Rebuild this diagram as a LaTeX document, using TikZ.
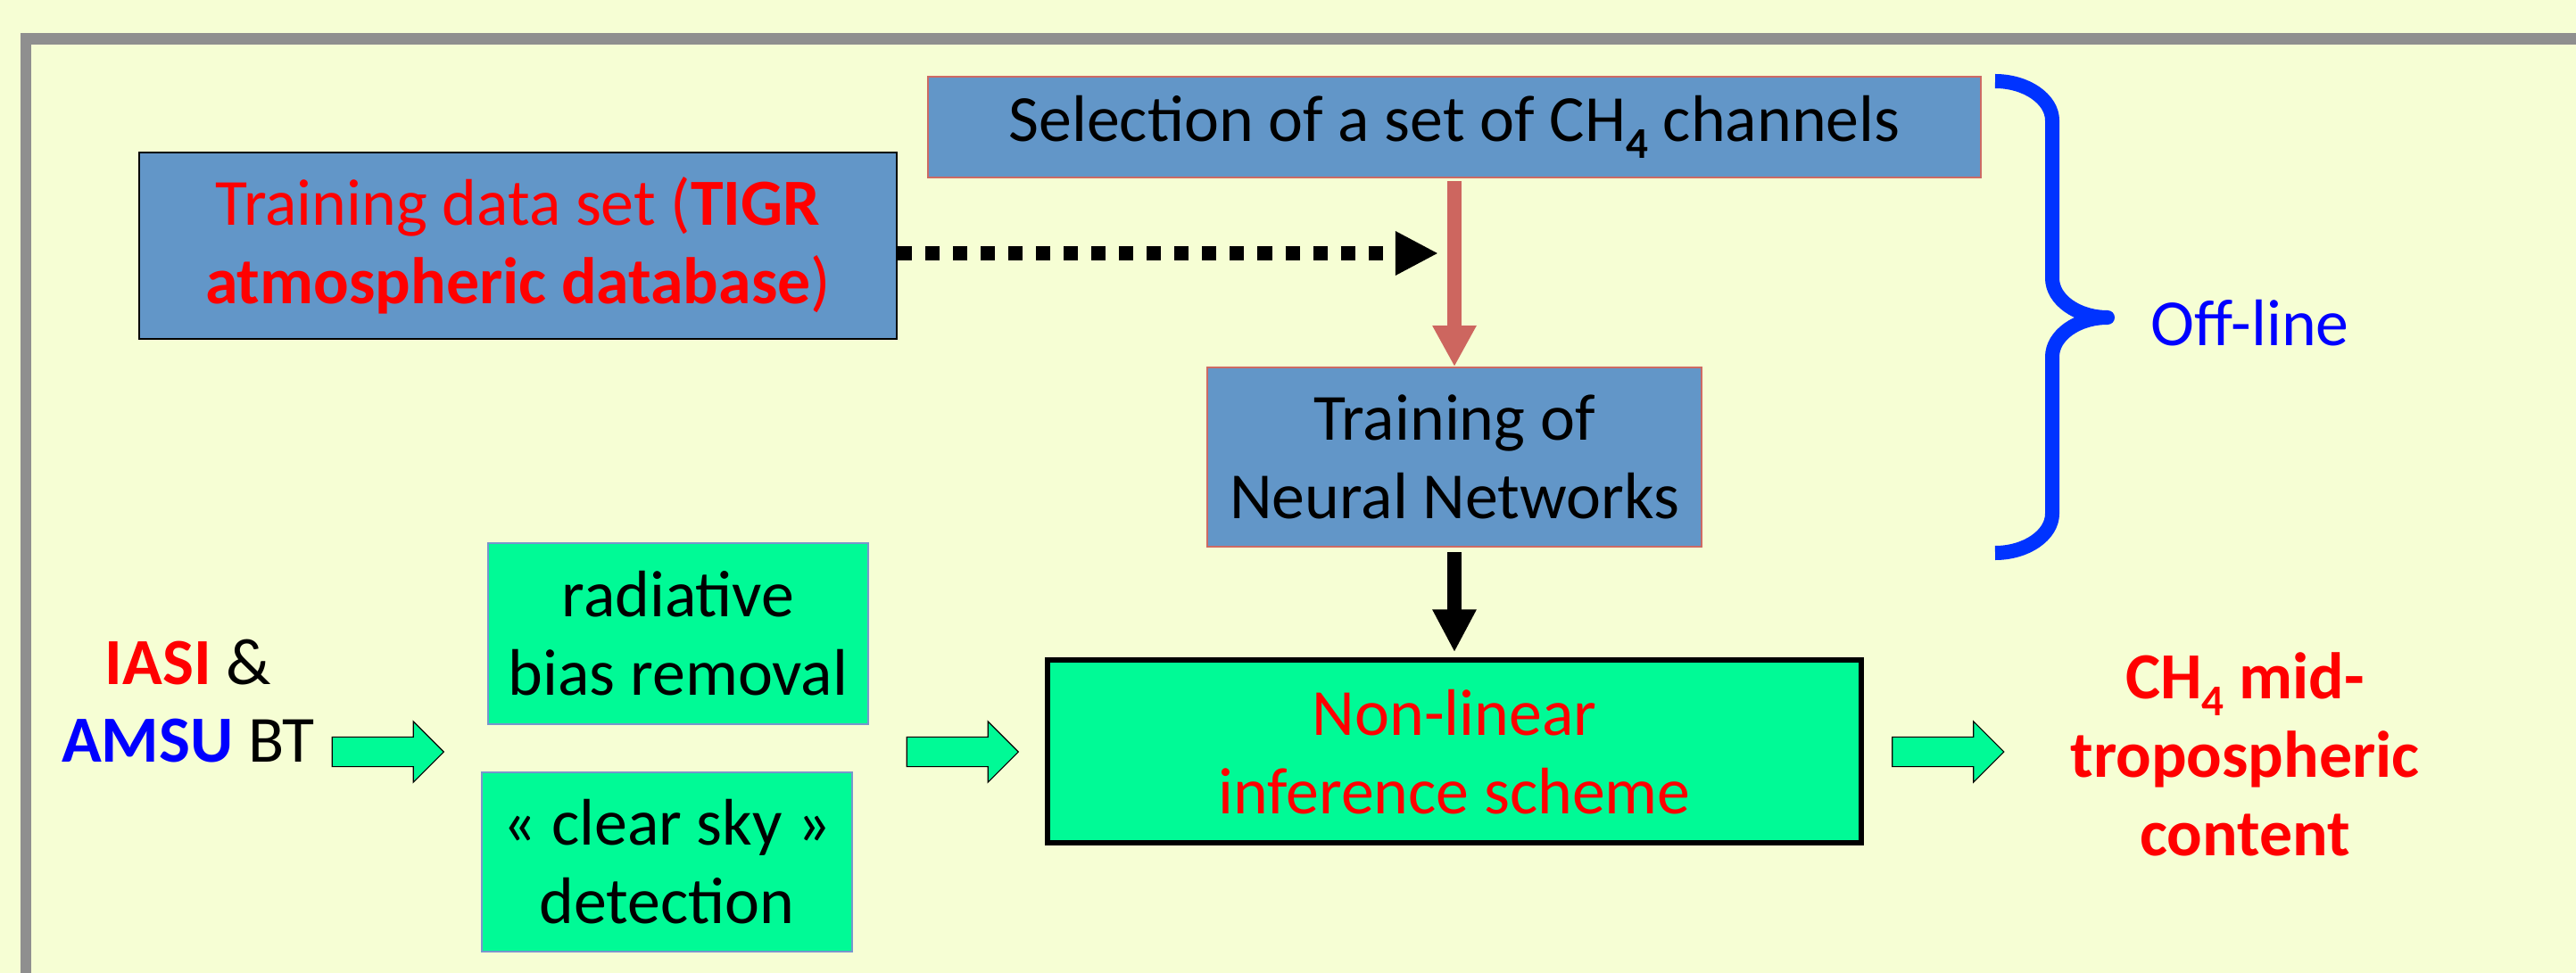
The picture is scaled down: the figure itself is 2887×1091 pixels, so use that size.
\documentclass[tikz,border=0pt]{standalone}
\usepackage{fontspec}
\setmainfont{Carlito}
\usetikzlibrary{positioning, arrows.meta, shapes.arrows}

\definecolor{paper}{RGB}{246,254,212}
\definecolor{framegray}{RGB}{143,143,143}
\definecolor{boxblue}{RGB}{98,150,200}
\definecolor{boxred}{RGB}{205,106,100}
\definecolor{arrowred}{RGB}{205,102,95}
\definecolor{boxgreen}{RGB}{0,250,150}
\definecolor{greenedge}{RGB}{120,150,205}
\definecolor{bracket}{RGB}{0,51,255}

\newcommand{\subfour}{\raisebox{-0.26em}{\fontsize{14pt}{14pt}\selectfont\bfseries 4}}

\tikzset{
  node distance=3.7cm,
  every node/.style={font=\fontsize{21pt}{25pt}\selectfont, align=center, inner sep=0pt},
  bluebox/.style={draw=boxred, line width=0.02cm, fill=boxblue},
  greenbox/.style={draw=greenedge, line width=0.02cm, fill=boxgreen},
  fatarrow/.style={single arrow, draw=black, line width=0.012cm, fill=boxgreen,
    minimum height=1.25cm, minimum width=0.67cm, single arrow head extend=0.175cm,
    text height=0.32cm, text depth=0cm},
}

\begin{document}
\begin{tikzpicture}[x=0.01cm, y=-0.01cm]
		% background and frame
		\fill[paper] (0,0) rectangle (2887,1091);
		\useasboundingbox (0,0) rectangle (2887,1091);
		\draw[framegray, line width=0.12cm] (2887,43.5) -- (28.7,43.5) -- (28.7,1091);

		% off-line boxes
		\node[bluebox, minimum width=11.8cm, minimum height=1.13cm] (sel) at (1630,142.5) {Selection of a set of CH\subfour{} channels};
		\node[draw=black, line width=0.02cm, fill=boxblue, text=red, minimum width=8.49cm, minimum height=2.09cm] (train) at (580.5,275.5) {Training data set (\textbf{TIGR}\\\textbf{atmospheric database})};
		\node[bluebox, below of=sel, minimum width=5.54cm, minimum height=2.01cm] (nn) {Training of\\Neural Networks};
		\node[text=blue, anchor=base west] (off) at (2410,387) {Off-line};

		% on-line boxes
		\node[draw=black, line width=0.06cm, fill=boxgreen, text=red, below of=nn, node distance=3.3cm, minimum width=9.12cm, minimum height=2.05cm] (nl) {Non-linear\\inference scheme};
		\node[greenbox, minimum width=4.26cm, minimum height=2.03cm] (rad) at (760,710.5) {radiative\\bias removal};
		\node[greenbox, minimum width=4.15cm, minimum height=2.01cm] (sky) at (747.5,966.5) {« clear sky »\\detection};
		\node (inp) at (211,786) {\textcolor{red}{\textbf{IASI}} \&\\\textcolor{blue}{\textbf{AMSU}} BT};
		\node[text=red, font=\fontsize{21pt}{25pt}\selectfont\bfseries] (out) at (2516,846) {CH\subfour{} mid-\\tropospheric\\content};

		% block arrows
		\node[fatarrow] (a1) at (426.5,843) {};
		\node[fatarrow] (a2) at (1070.5,843) {};
		\node[fatarrow] (a3) at (2175,843) {};

		% connectors
		\coordinate (dotend) at (1612,284);
		\draw[line width=0.16cm, dash pattern=on 0.16cm off 0.15cm, -{Triangle[length=0.48cm, width=0.46cm]}] (train.east |- dotend) -- (dotend);
		\draw[arrowred, line width=0.16cm, shorten <=0.03cm, -{Triangle[length=0.46cm, width=0.46cm]}] (sel.south) -- (nn.north);
		\draw[line width=0.16cm, shorten <=0.05cm, shorten >=0.06cm, -{Triangle[length=0.48cm, width=0.46cm]}] (nn.south) -- (nl.north);

		% brace
		\draw[bracket, line width=0.16cm, line join=round] (2236,91) .. controls (2271,91) and (2300,111) .. (2300,135) -- (2300,312)
		.. controls (2300,336) and (2328,356) .. (2362,356) .. controls (2328,356) and (2300,376) .. (2300,400) -- (2300,576)
		.. controls (2300,600) and (2271,620) .. (2236,620);

	\end{tikzpicture}
\end{document}
